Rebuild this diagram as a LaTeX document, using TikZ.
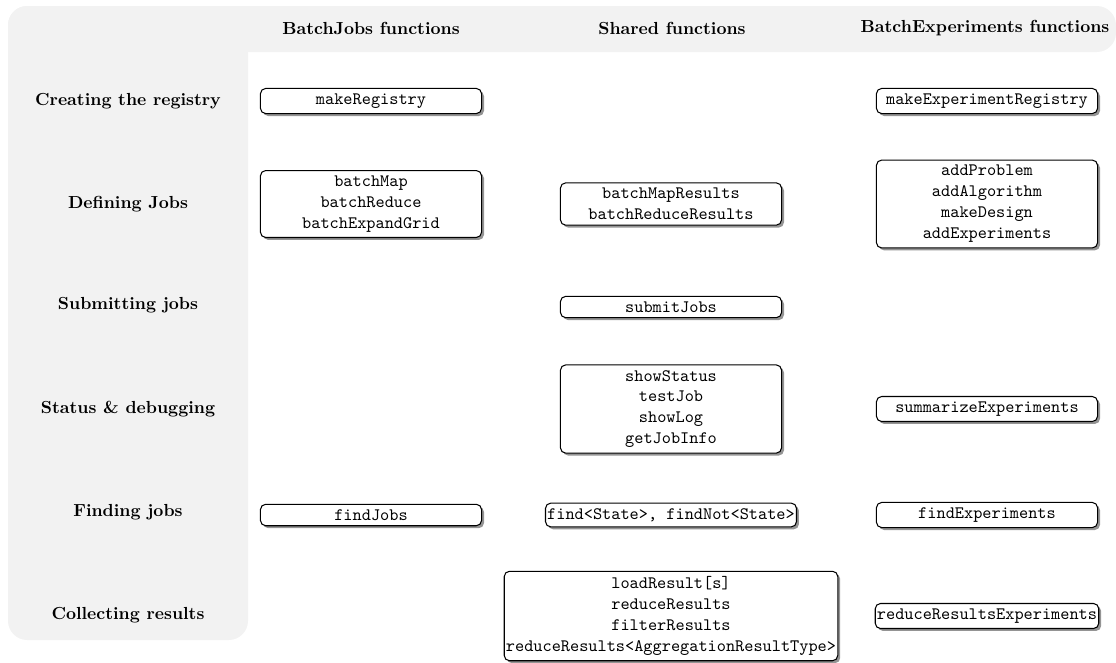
\documentclass[tikz,border=0pt]{standalone}
\usepackage{tikz}
\usetikzlibrary{shadows}
\definecolor{bandgray}{RGB}{242,242,242}

\begin{document}
\begin{tikzpicture}[x=0.02013cm,y=-0.02013cm,
  fnbox/.style={draw,semithick,rounded corners=3pt,fill=white,font=\ttfamily,
    align=center,minimum width=4.45cm,inner xsep=1pt,inner ysep=3pt,
    drop shadow={shadow xshift=1.4pt,shadow yshift=-1.4pt,opacity=0.7,fill=black!60}},
  rowlabel/.style={font=\bfseries},
  colhead/.style={font=\bfseries}]
  \useasboundingbox (0,0) rectangle (1116,662);
  % background bands
  \fill[bandgray,rounded corners=11pt] (8,6) rectangle (1116,52);
  \fill[bandgray,rounded corners=11pt] (8,6) rectangle (248,640);
  % column heads
  \node[colhead] (hjobs) at (371,28) {BatchJobs functions};
  \node[colhead] (hshared) at (672,28) {Shared functions};
  \node[colhead] (hexp) at (985,28) {BatchExperiments functions};
  % row labels
  \node[rowlabel] (lreg) at (128,101) {Creating the registry};
  \node[rowlabel] (ldef) at (128,204) {Defining Jobs};
  \node[rowlabel] (lsub) at (128,305) {Submitting jobs};
  \node[rowlabel] (lstat) at (128,409) {Status \& debugging};
  \node[rowlabel] (lfind) at (128,512) {Finding jobs};
  \node[rowlabel] (lcoll) at (128,615) {Collecting results};
  % BatchJobs
  \node[fnbox] (makereg) at (371,101) {makeRegistry};
  \node[fnbox] (batchfns) at (371,204) {batchMap\\batchReduce\\batchExpandGrid};
  \node[fnbox] (findjobs) at (371,515) {findJobs};
  % shared
  \node[fnbox] (resfns) at (671,204) {batchMapResults\\batchReduceResults};
  \node[fnbox] (submit) at (671,307) {submitJobs};
  \node[fnbox] (statfns) at (671,409) {showStatus\\testJob\\showLog\\getJobInfo};
  \node[fnbox] (findstate) at (671,515) {find<State>, findNot<State>};
  \node[fnbox] (collfns) at (671,616) {loadResult[s]\\reduceResults\\filterResults\\reduceResults<AggregationResultType>};
  % BatchExperiments
  \node[fnbox] (makeexpreg) at (987,101) {makeExperimentRegistry};
  \node[fnbox] (expfns) at (987,204) {addProblem\\addAlgorithm\\makeDesign\\addExperiments};
  \node[fnbox] (summexp) at (987,409) {summarizeExperiments};
  \node[fnbox] (findexp) at (987,515) {findExperiments};
  \node[fnbox] (reduceexp) at (987,616) {reduceResultsExperiments};
\end{tikzpicture}
\end{document}
